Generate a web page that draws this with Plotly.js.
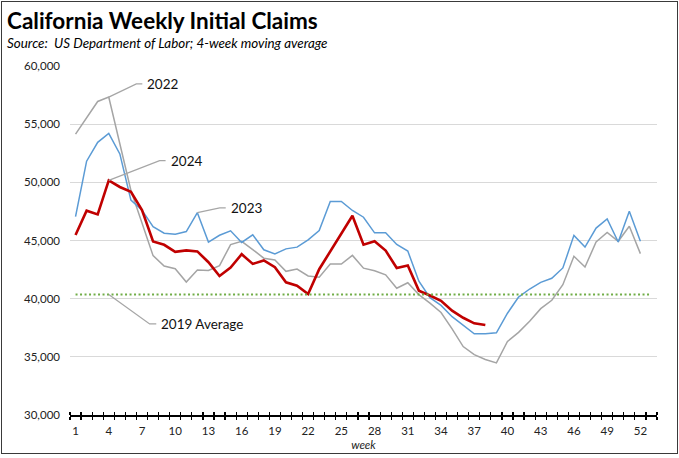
<!DOCTYPE html>
<html><head><meta charset="utf-8">
<script src="https://cdn.plot.ly/plotly-3.0.1.min.js"></script>
<style>
html,body{margin:0;padding:0;background:#fff;}
#chart{width:679px;height:458px;position:absolute;left:0;top:0;}
#frame{position:absolute;left:1px;top:1px;width:677px;height:453px;border:1px solid #3a3a3a;box-sizing:border-box;pointer-events:none;}
</style></head><body>
<div id="chart"></div><div id="frame"></div>
<script>
// week numbers
const weeks = [1,2,3,4,5,6,7,8,9,10,11,12,13,14,15,16,17,18,19,20,21,22,23,24,25,26,
  27,28,29,30,31,32,33,34,35,36,37,38,39,40,41,42,43,44,45,46,47,48,49,50,51,52];
const weekTicks = [1,4,7,10,13,16,19,22,25,28,31,34,37,40,43,46,49,52];
const weekTickText = ['1','4','7','10','13','16','19','22','25','28','31','34','37','40','43','46','49','52'];
const yTicks = [30000,35000,40000,45000,50000,55000,60000];

// 2022 (gray)
const claims2022 = [54150,55600,56950,57330,53300,49300,46500,43700,42800,42580,41430,42460,42430,42840,
  44650,44930,44220,43480,43330,42350,42550,41950,41850,42970,42970,43720,42620,42400,42050,40900,
  41370,40350,39620,38810,37400,35880,35190,34770,34480,36320,37100,38050,39140,39860,41200,43640,
  42720,44870,45700,44930,46220,43870];
// 2023 (blue)
const claims2023 = [47050,51820,53440,54200,52440,48470,47610,46190,45630,45540,45770,47390,44860,45450,
  45830,44830,45490,44200,43850,44280,44430,45060,45860,48360,48360,47580,47000,45660,45660,44660,
  44090,41500,40080,39420,38450,37740,36980,36980,37060,38750,40140,40830,41400,41750,42640,45440,
  44440,46070,46850,44870,47510,44930];
// 2024 (red)
const claims2024 = [45480,47560,47240,50170,49600,49180,47610,44910,44630,44030,44150,44060,43130,41950,
  42670,43820,42990,43280,42700,41410,41120,40400,42530,44050,45580,47130,44640,44930,44130,42640,
  42850,40690,40270,39820,38970,38360,37880,37730];
const weeks2024 = weeks.slice(0, claims2024.length);
// 2019 average
const avg2019 = 40350;
const avgWeeks = [1, 53];

const FONT = 'Lato, "Open Sans", sans-serif';
const GRAY = '#A5A5A5', BLUE = '#5B9BD5', RED = '#C00000', GREEN = '#70AD47';

const traces = [
  {x: weeks, y: claims2022, type:'scatter', mode:'lines', line:{color:GRAY, width:1.5}, hoverinfo:'skip'},
  {x: weeks, y: claims2023, type:'scatter', mode:'lines', line:{color:BLUE, width:1.5}, hoverinfo:'skip'},
  {x: avgWeeks, y: [avg2019, avg2019], type:'scatter', mode:'lines', xaxis:'x2',
   line:{color:GREEN, width:2, dash:'2px,2.5px'}, hoverinfo:'skip'},
  {x: weeks2024, y: claims2024, type:'scatter', mode:'lines', line:{color:RED, width:2.6}, hoverinfo:'skip'}
];

const L = 70, R = 22, T = 66, B = 43, W = 679, H = 458;
const pw = W - L - R, ph = H - T - B;
const px2paperX = p => (p - L) / pw;
const px2paperY = p => (H - B - p) / ph;

function leader(x0, y0, x1, y1, x2) {
  return {type:'path', xref:'x', yref:'y', path:`M ${x0},${y0} L ${x1},${y1} L ${x2},${y1}`,
    line:{color:'#A6A6A6', width:1.3}};
}
function label(text, x, y) {
  return {text, x, y, xref:'x', yref:'y', xanchor:'left', yanchor:'middle', showarrow:false,
    font:{family:FONT, size:13.5, color:'#111'}};
}

const layout = {
  width: W, height: H,
  margin: {l:L, r:R, t:T, b:B},
  paper_bgcolor:'#fff', plot_bgcolor:'#fff',
  showlegend:false,
  xaxis: {
    range:[0.5, 53.5], tickmode:'linear', tick0:0.5, dtick:1, ticks:'outside', ticklen:3.5,
    tickwidth:1.2, tickcolor:'#000', showticklabels:false, showgrid:false, zeroline:false,
    showline:true, linecolor:'#000', linewidth:1.6,
    minor:{ticks:'inside', tickmode:'linear', tick0:0.5, dtick:1, ticklen:3.5, tickwidth:1.2, tickcolor:'#000', showgrid:false}
  },
  xaxis2: {
    overlaying:'x', anchor:'y', side:'bottom', range:[0.5, 53.5], tickmode:'array',
    tickvals: weekTicks, ticktext: weekTickText, ticks:'', showgrid:false, zeroline:false, showline:false,
    tickfont:{family:FONT, size:11.5, color:'#222'}, ticklabelstandoff:7,
    title:{text:'<i>week</i>', font:{family:FONT, size:11.5, color:'#222'}, standoff:5}
  },
  yaxis: {
    range:[30000, 60000], tickmode:'array', tickvals:yTicks, tickformat:',', ticks:'',
    showgrid:true, gridcolor:'#D9D9D9', gridwidth:1.3, zeroline:false, showline:false,
    tickfont:{family:FONT, size:11.5, color:'#222'}, ticklabelstandoff:9
  },
  shapes: [
    leader(4, claims2022[3], 6.49, 58460, 7.03),
    leader(4, claims2024[3], 8.59, 51860, 9.13),
    leader(12, claims2023[11], 14.02, 47810, 14.56),
    leader(4, avg2019, 7.69, 37830, 8.29)
  ],
  annotations: [
    {text:'<b>California Weekly Initial Claims</b>', xref:'paper', yref:'paper',
     x:px2paperX(5), y:px2paperY(20), xanchor:'left', yanchor:'middle', showarrow:false,
     font:{family:FONT, size:22.5, color:'#000'}},
    {text:'<i>Source:  US Department of Labor; 4-week moving average</i>', xref:'paper', yref:'paper',
     x:px2paperX(5), y:px2paperY(43), xanchor:'left', yanchor:'middle', showarrow:false,
     font:{family:FONT, size:13.4, color:'#000'}},
    label('2022', 7.3, 58460),
    label('2024', 9.4, 51860),
    label('2023', 14.88, 47810),
    label('2019 Average', 8.58, 37830)
  ]
};

Plotly.newPlot('chart', traces, layout, {staticPlot:true, displayModeBar:false});
</script>
</body></html>
